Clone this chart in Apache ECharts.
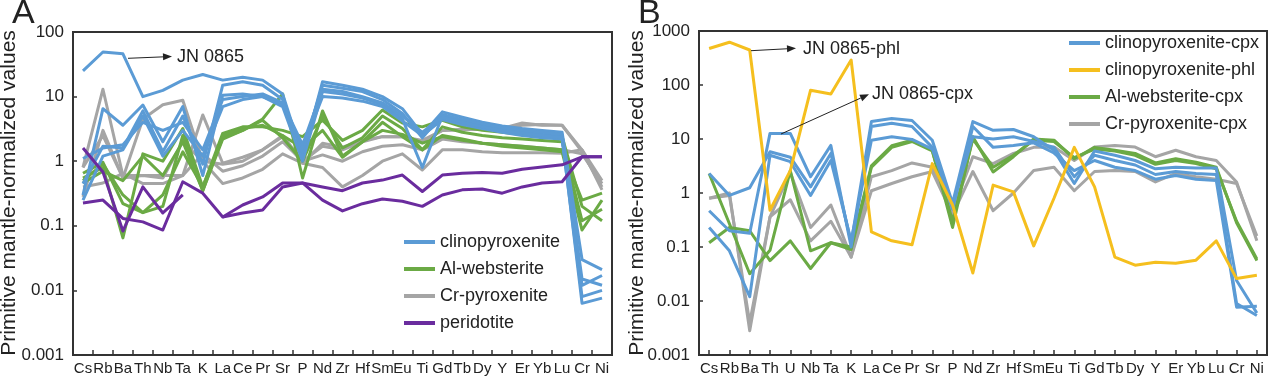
<!DOCTYPE html>
<html>
<head>
<meta charset="utf-8">
<script src="https://cdn.jsdelivr.net/npm/echarts@6/dist/echarts.min.js"></script>
<style>
html,body{margin:0;padding:0;background:#fff;}
#chart{width:1269px;height:379px;}
</style>
</head>
<body>
<div id="chart"></div>
<script>
// ---------- categories ----------
const catsA = ['Cs','Rb','Ba','Th','Nb','Ta','K','La','Ce','Pr','Sr','P','Nd','Zr','Hf','Sm','Eu','Ti','Gd','Tb','Dy','Y','Er','Yb','Lu','Cr','Ni'];
const catsB = ['Cs','Rb','Ba','Th','U','Nb','Ta','K','La','Ce','Pr','Sr','P','Nd','Zr','Hf','Sm','Eu','Ti','Gd','Tb','Dy','Y','Er','Yb','Lu','Cr','Ni'];
const yTicksA = [0.001, 0.01, 0.1, 1, 10, 100];
const yTicksB = [0.001, 0.01, 0.1, 1, 10, 100, 1000];

// ---------- panel A: whole rock ----------
const clinoA1 = [25, 49, 46, 10, 12.5, 18, 22, 18, 20, 18, 11, 1.2, 17, 15, 13, 10, 6.5, 2.6, 5.8, 4.8, 4.0, 3.5, 3.2, 3.0, 2.8, 0.03, 0.021];
const clinoA2 = [0.3, 6.5, 3.6, 7.4, 2.0, 7.0, 0.6, 10.5, 11, 10, 7, 1.0, 12, 11, 9.5, 7.5, 4.5, 0.8, 5.0, 4.2, 3.6, 3.1, 2.8, 2.6, 2.4, 0.0063, 0.0076];
const clinoA3 = [0.45, 1.7, 1.6, 6.0, 1.4, 5.0, 0.9, 15, 17, 15, 9, 1.4, 15, 13.5, 12, 9, 5.5, 2.3, 5.3, 4.4, 3.8, 3.3, 3.0, 2.8, 2.6, 0.012, 0.017];
const clinoA4 = [0.25, 1.2, 1.5, 5.0, 1.2, 3.0, 1.2, 7, 9, 10, 7.5, 1.6, 10, 9.5, 8.5, 7, 4.2, 2.5, 4.4, 3.7, 3.2, 2.8, 2.5, 2.3, 2.2, 0.008, 0.01];
const clinoA5 = [1.1, 1.6, 1.8, 4.0, 3.0, 4.0, 1.5, 9, 10, 11, 8, 1.8, 13, 12, 10, 8, 5, 2.8, 4.8, 4.0, 3.4, 3.0, 2.7, 2.5, 2.3, 0.015, 0.012];

const webA1 = [0.55, 0.8, 0.065, 1.3, 1.0, 3.2, 0.4, 2.3, 3.0, 4.5, 11, 0.55, 6.0, 1.2, 2.0, 4.0, 2.4, 1.5, 2.5, 2.2, 1.9, 1.7, 1.6, 1.5, 1.4, 0.086, 0.25];
const webA2 = [0.65, 0.96, 0.22, 0.16, 0.3, 1.4, 0.4, 2.7, 3.4, 3.4, 3.0, 2.4, 4.3, 2.1, 3.0, 6.2, 3.9, 3.4, 4.3, 3.4, 3.0, 2.8, 2.6, 2.5, 2.4, 0.2, 0.12];
const webA3 = [0.46, 0.7, 0.5, 1.2, 0.6, 2.0, 0.35, 2.5, 3.2, 3.6, 2.5, 1.6, 3.0, 1.15, 2.0, 3.0, 2.6, 1.9, 2.4, 2.1, 1.9, 1.8, 1.7, 1.6, 1.5, 0.25, 0.32];
const webA4 = [0.5, 0.9, 0.3, 0.16, 0.2, 2.5, 0.35, 2.2, 3.0, 4.3, 2.3, 1.0, 5.0, 1.6, 2.3, 5.0, 3.2, 1.5, 3.4, 2.8, 2.5, 2.3, 2.2, 2.1, 2.0, 0.12, 0.18];

const crA1 = [0.8, 13, 0.6, 0.6, 0.6, 0.6, 5.2, 0.93, 1.15, 1.5, 2.4, 0.93, 1.9, 1.65, 2.1, 2.4, 2.4, 2.1, 3.0, 3.1, 3.1, 3.2, 3.9, 3.6, 3.6, 1.5, 0.5];
const crA2 = [0.28, 3.0, 0.55, 4.5, 7.5, 8.8, 1.0, 0.45, 0.55, 0.75, 1.3, 0.93, 0.8, 0.4, 0.6, 1.0, 1.3, 0.73, 1.5, 1.5, 1.4, 1.35, 1.35, 1.35, 1.33, 1.5, 0.36];
const crA3 = [0.4, 0.46, 0.65, 0.45, 0.45, 0.6, 1.3, 0.7, 0.85, 1.2, 2.0, 1.0, 1.25, 1.0, 1.4, 1.7, 1.8, 1.5, 2.2, 2.0, 1.9, 1.8, 1.7, 1.6, 1.5, 1.3, 0.45];
const crA4 = [0.8, 2.5, 0.55, 0.6, 0.55, 2.0, 1.0, 0.9, 1.0, 1.5, 2.5, 1.0, 1.7, 1.5, 2.0, 2.4, 2.4, 2.0, 3.0, 3.1, 3.2, 3.3, 3.6, 3.7, 3.6, 1.4, 0.4];

const perA1 = [0.225, 0.25, 0.13, 0.115, 0.086, 0.48, 0.32, 0.137, 0.21, 0.28, 0.46, 0.46, 0.40, 0.35, 0.46, 0.51, 0.61, 0.34, 0.61, 0.65, 0.67, 0.65, 0.75, 0.81, 0.88, 1.17, 1.17];
const perA2 = [1.6, 0.68, 0.083, 0.40, 0.158, 0.30, null, null, null, null, null, null, null, null, null, null, null, null, null, null, null, null, null, null, null, null, null];
const perA3 = [null, null, null, null, null, null, null, 0.137, 0.158, 0.176, 0.40, 0.46, 0.25, 0.17, 0.22, 0.26, 0.24, 0.20, 0.30, 0.36, 0.37, 0.32, 0.40, 0.46, 0.48, 1.17, 1.17];

// ---------- panel B: minerals ----------
const cpxB1 = [2.3, 0.9, 1.25, 5.8, 4.6, 1.3, 5.4, 0.12, 21, 24, 22, 9.5, 0.65, 21, 14.5, 15, 11, 6.2, 1.5, 6.0, 5.0, 4.0, 2.8, 3.0, 2.9, 2.9, 0.024, 0.006];
const cpxB2 = [0.47, 0.2, 0.18, 12.7, 12.7, 2.0, 7.6, 0.1, 17, 19.6, 17, 7, 0.5, 17, 7, 7.6, 8.5, 5.5, 2.6, 4.0, 3.0, 2.6, 1.8, 2.1, 1.8, 1.7, 0.0077, 0.008];
const cpxB3 = [0.23, 0.085, 0.012, 5.0, 3.8, 0.9, 4.0, 0.13, 9.5, 11, 9.8, 6.5, 0.6, 11, 10, 11, 9, 7, 2.0, 5.0, 4.0, 3.3, 2.2, 2.5, 2.3, 2.2, 0.009, 0.0054];
const phlB1 = [475, 620, 445, 0.48, 2.6, 80, 68, 290, 0.19, 0.13, 0.11, 3.5, 0.6, 0.033, 1.4, 1.05, 0.105, 0.8, 7, 1.3, 0.065, 0.046, 0.052, 0.05, 0.057, 0.13, 0.026, 0.03];
const webB1 = [2.3, 0.27, 0.032, 0.087, 2.6, 0.085, 0.12, 0.1, 3.2, 7.5, 9.5, 6.2, 0.23, 11, 2.45, 4.7, 10, 9.5, 4.3, 7, 6.2, 5.4, 3.6, 4.3, 3.7, 3.0, 0.28, 0.056];
const webB2 = [0.12, 0.23, 0.2, 0.056, 0.13, 0.04, 0.12, 0.09, 3.0, 7, 9, 6, 0.3, 10, 3, 5, 9.5, 9, 4.5, 6.5, 6, 5, 3.4, 4, 3.5, 2.8, 0.3, 0.06];
const crB1 = [0.8, 1.0, 0.0028, 0.36, 2.4, 0.23, 0.6, 0.065, 2.0, 2.6, 3.6, 3.0, 0.47, 4.7, 3.5, 5.4, 7, 7.1, 4.0, 7.1, 7.6, 7.1, 4.7, 6.2, 4.7, 4.0, 1.6, 0.13];
const crB2 = [0.8, 0.9, 0.004, 0.36, 0.75, 0.13, 0.3, 0.065, 1.1, 1.5, 2.0, 2.5, 0.4, 2.5, 0.47, 1.0, 2.6, 3.0, 1.1, 2.5, 2.6, 2.5, 1.6, 2.3, 2.0, 1.8, 1.5, 0.16];

// ---------- styling ----------
const FONT = '"Liberation Sans", Arial, Helvetica, sans-serif';
const C_BLUE = '#5B9BD5', C_GREEN = '#6BAA45', C_GRAY = '#A5A5A5', C_PURPLE = '#6A2C9E', C_YELLOW = '#F5BF1E';
const INK = '#222';

const groupsA = [
  {name: 'Cr-pyroxenite', color: C_GRAY, lines: [crA1, crA2, crA3, crA4]},
  {name: 'Al-websterite', color: C_GREEN, lines: [webA1, webA2, webA3, webA4]},
  {name: 'clinopyroxenite', color: C_BLUE, lines: [clinoA1, clinoA2, clinoA3, clinoA4, clinoA5]},
  {name: 'peridotite', color: C_PURPLE, lines: [perA1, perA2, perA3]}
];
const groupsB = [
  {name: 'Cr-pyroxenite-cpx', color: C_GRAY, lines: [crB1, crB2]},
  {name: 'Al-websterite-cpx', color: C_GREEN, lines: [webB1, webB2]},
  {name: 'clinopyroxenite-cpx', color: C_BLUE, lines: [cpxB1, cpxB2, cpxB3]},
  {name: 'clinopyroxenite-phl', color: C_YELLOW, lines: [phlB1]}
];

const series = [];
function addGroups(groups, idx) {
  groups.forEach(g => g.lines.forEach(arr => {
    series.push({
      type: 'line', name: g.name, xAxisIndex: idx, yAxisIndex: idx,
      data: arr, color: g.color, showSymbol: false, symbol: 'none',
      connectNulls: false, silent: true, animation: false,
      lineStyle: {width: 3, color: g.color, join: 'round'}
    });
  }));
}
addGroups(groupsA, 0);
addGroups(groupsB, 1);

function logFmt(v) { return String(parseFloat(Number(v).toPrecision(6))); }

function yAxis(gridIndex, ticks) {
  return {
    type: 'log', logBase: 10, gridIndex,
    min: ticks[0], max: ticks[ticks.length - 1], splitNumber: ticks.length - 1,
    axisLine: {show: true, lineStyle: {color: '#333', width: 2}},
    axisTick: {show: true, inside: true, length: 4, lineStyle: {color: '#333', width: 1.5}},
    minorTick: {show: false},
    splitLine: {show: false},
    axisLabel: {color: INK, fontSize: 17, fontFamily: FONT, margin: 9, formatter: logFmt}
  };
}
function xAxis(gridIndex, cats, align) {
  return {
    type: 'category', gridIndex, data: cats, boundaryGap: true,
    axisLine: {show: true, onZero: false, lineStyle: {color: '#333', width: 2}},
    axisTick: {show: true, inside: true, length: 5, alignWithLabel: align, interval: 0, lineStyle: {color: '#333', width: 1.5}},
    splitLine: {show: false},
    axisLabel: {color: INK, fontSize: 15, fontFamily: FONT, margin: 6, interval: 0}
  };
}

function arrow(x1, y1, x2, y2) {
  const L = 9, W = 3.5;
  const dx = x2 - x1, dy = y2 - y1, len = Math.hypot(dx, dy);
  const ux = dx / len, uy = dy / len;
  const bx = x2 - ux * L, by = y2 - uy * L;
  return [
    {type: 'line', shape: {x1, y1, x2: bx, y2: by}, style: {stroke: INK, lineWidth: 1}, z: 100},
    {type: 'polygon', shape: {points: [[x2, y2], [bx - uy * W, by + ux * W], [bx + uy * W, by - ux * W]]}, style: {fill: INK}, z: 100}
  ];
}
function txt(x, y, text, size, opts) {
  return Object.assign({type: 'text', x, y, z: 100,
    style: {text, fontSize: size, fontFamily: FONT, fill: INK, align: 'left', verticalAlign: 'middle'}}, opts || {});
}

const graphic = [
  txt(12, 14, 'A', 34),
  txt(638, 14, 'B', 34),
  Object.assign(txt(9, 193, 'Primitive mantle-normalized values', 21), {rotation: Math.PI / 2}),
  Object.assign(txt(637, 193, 'Primitive mantle-normalized values', 21), {rotation: Math.PI / 2}),
  txt(177, 57, 'JN 0865', 18),
  txt(803, 49, 'JN 0865-phl', 18),
  txt(872, 94, 'JN 0865-cpx', 18),
  ...arrow(128, 58.3, 172, 56.5),
  ...arrow(751, 50.7, 796, 48.3),
  ...arrow(781, 134, 869, 94.3)
];
graphic[2].style.align = 'center';
graphic[3].style.align = 'center';

const legendBase = {
  orient: 'vertical', icon: 'rect', itemWidth: 31, itemHeight: 4, itemGap: 7, padding: 0,
  selectedMode: false,
  textStyle: {fontSize: 18, lineHeight: 20, color: INK, fontFamily: FONT}
};

const option = {
  animation: false,
  backgroundColor: '#fff',
  grid: [
    {left: 73, top: 32, width: 539, height: 323, show: true, borderColor: '#333', borderWidth: 2, backgroundColor: 'transparent'},
    {left: 699, top: 31, width: 568, height: 324, show: true, borderColor: '#333', borderWidth: 2, backgroundColor: 'transparent'}
  ],
  xAxis: [xAxis(0, catsA, false), xAxis(1, catsB, true)],
  yAxis: [yAxis(0, yTicksA), yAxis(1, yTicksB)],
  legend: [
    Object.assign({}, legendBase, {left: 404, top: 232, data: ['clinopyroxenite', 'Al-websterite', 'Cr-pyroxenite', 'peridotite']}),
    Object.assign({}, legendBase, {left: 1069, top: 33, data: ['clinopyroxenite-cpx', 'clinopyroxenite-phl', 'Al-websterite-cpx', 'Cr-pyroxenite-cpx']})
  ],
  graphic,
  series
};

const chart = echarts.init(document.getElementById('chart'), null, {renderer: 'canvas'});
chart.setOption(option);
</script>
</body>
</html>
